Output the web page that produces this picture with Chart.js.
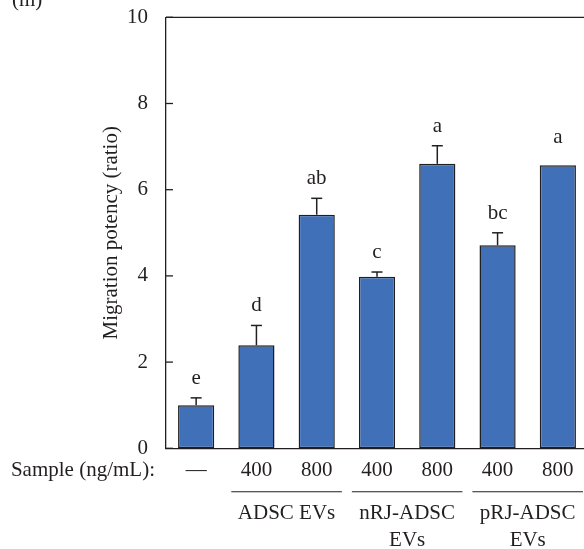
<!DOCTYPE html>
<html><head><meta charset="utf-8">
<script src="https://cdn.jsdelivr.net/npm/chart.js@4/dist/chart.umd.min.js"></script>
<style>html,body{margin:0;padding:0;overflow:hidden;background:#fff}</style>
</head><body>
<canvas id="c" width="588" height="549"></canvas>
<script>
const doseLabels = ['—', '400', '800', '400', '800', '400', '800'];
const migration = [1.00, 2.39, 5.42, 3.98, 6.60, 4.71, 6.57];
const errorUp = [0.17, 0.46, 0.38, 0.11, 0.42, 0.29, 0.19];
const errorShown = [true, true, true, true, true, true, false];
const letters = ['e', 'd', 'ab', 'c', 'a', 'bc', 'a'];
const groupNames = [['ADSC EVs'], ['nRJ-ADSC', 'EVs'], ['pRJ-ADSC', 'EVs']];
const groupFirst = [1, 3, 5];
const groupLast = [2, 4, 6];
const yMin = 0, yMax = 10, yStep = 2;
const yTitle = 'Migration potency (ratio)';
const sampleLabel = 'Sample (ng/mL):';
const panelLabel = '(m)';

const FONT = '"Liberation Serif", "Times New Roman", serif';
const FS = 21;
const INK = '#231f20';

function seg(ctx, x1, y1, x2, y2) {
  ctx.beginPath(); ctx.moveTo(x1, y1); ctx.lineTo(x2, y2); ctx.stroke();
}

const annot = {
  id: 'annot',
  afterDatasetsDraw(chart) {
    const {ctx, chartArea: ca, scales: {x, y}} = chart;
    const meta = chart.getDatasetMeta(0);
    ctx.save();
    ctx.strokeStyle = INK;
    ctx.fillStyle = INK;
    ctx.lineWidth = 1.3;
    // top frame
    seg(ctx, ca.left, ca.top, ca.right + 10, ca.top);
    // inward tick marks
    y.ticks.forEach(t => {
      const py = y.getPixelForValue(t.value);
      seg(ctx, ca.left, py, ca.left + 7, py);
    });
    // error bars and letters
    ctx.font = FS + 'px ' + FONT;
    ctx.textAlign = 'center';
    ctx.textBaseline = 'alphabetic';
    meta.data.forEach((bar, i) => {
      const top = y.getPixelForValue(migration[i] + errorUp[i]);
      if (errorShown[i]) {
        ctx.lineWidth = 1.5;
        seg(ctx, bar.x, bar.y, bar.x, top);
        seg(ctx, bar.x - 5.5, top, bar.x + 5.5, top);
      }
      ctx.fillText(letters[i], bar.x, top - 14);
    });
    // sample label
    ctx.textAlign = 'right';
    ctx.fillText(sampleLabel, ca.left - 11, ca.bottom + 27.5);
    // group lines + names
    const w = x.width / doseLabels.length;
    ctx.lineWidth = 1.1;
    ctx.textAlign = 'center';
    groupFirst.forEach((f, g) => {
      const x1 = meta.data[f].x - w / 2 + 5;
      const x2 = meta.data[groupLast[g]].x + w / 2 - 5;
      seg(ctx, x1, ca.bottom + 43.5, x2, ca.bottom + 43.5);
      groupNames[g].forEach((line, k) => {
        ctx.fillText(line, (x1 + x2) / 2, ca.bottom + 71 + k * 26.5);
      });
    });
    // panel label
    ctx.textAlign = 'left';
    ctx.fillText(panelLabel, 12, 6);
    ctx.restore();
  }
};

new Chart(document.getElementById('c'), {
  type: 'bar',
  data: {
    labels: doseLabels,
    datasets: [{
      data: migration,
      backgroundColor: '#4070b8',
      borderColor: '#1f1f1f',
      borderWidth: 1.5,
      borderSkipped: false,
      barPercentage: 0.6,
      categoryPercentage: 1.0
    }]
  },
  options: {
    responsive: false,
    animation: false,
    devicePixelRatio: 1,
    layout: {padding: {top: 17.3, right: 0, bottom: 0, left: 0}},
    plugins: {legend: {display: false}, tooltip: {enabled: false}},
    scales: {
      x: {
        offset: true,
        grid: {display: false},
        border: {display: true, color: INK, width: 1.3},
        ticks: {font: {family: FONT, size: FS}, color: INK, padding: 1.5, maxRotation: 0, autoSkip: false},
        afterFit(s) { s.height = 100.7; s.paddingLeft = 0; s.paddingRight = 0; }
      },
      y: {
        min: yMin, max: yMax,
        grid: {display: false},
        border: {display: true, color: INK, width: 1.3},
        ticks: {stepSize: yStep, font: {family: FONT, size: FS}, color: INK, padding: 10},
        title: {display: true, text: yTitle, font: {family: FONT, size: FS}, color: INK, padding: {top: 99, bottom: 0}},
        afterFit(s) { s.width = 166; s.paddingTop = 0; s.paddingBottom = 0; }
      }
    }
  },
  plugins: [annot]
});
</script>
</body></html>
